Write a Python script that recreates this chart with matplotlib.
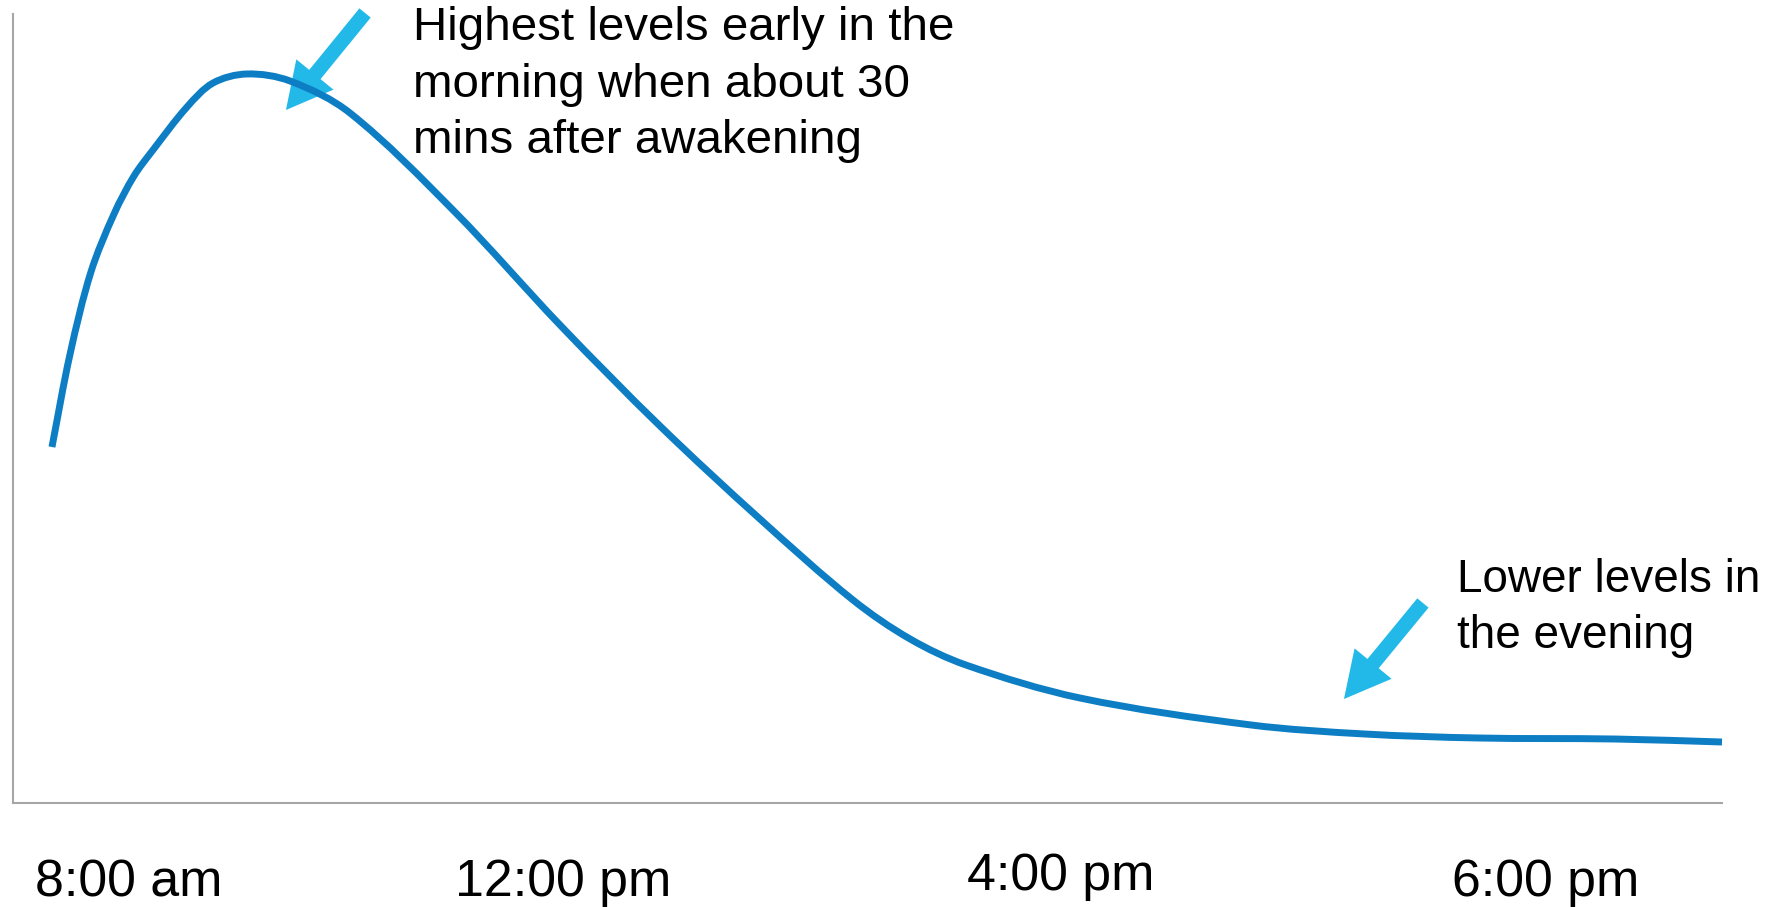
import matplotlib
matplotlib.use("Agg")
import matplotlib.pyplot as plt
import numpy as np
from matplotlib.path import Path
from matplotlib.patches import PathPatch
from matplotlib.transforms import blended_transform_factory

plt.rcParams['font.family'] = ['Liberation Sans', 'DejaVu Sans']

# Relative cortisol level across the day (x: position along the day, 0-100; y: level, 0-100)
day_position = [2.28, 3.34, 4.56, 5.91, 7.08, 8.19, 10.18, 11.70, 13.69, 16.21,
                19.72, 25.86, 32.01, 37.86, 43.71, 49.15, 52.49, 55.76, 62.43,
                72.44, 79.05, 85.72, 93.74, 100.0]
level = [45.12, 56.91, 67.30, 74.65, 79.47, 82.76, 88.21, 91.25, 92.40, 91.51,
         87.45, 74.90, 60.58, 47.78, 35.99, 25.73, 20.79, 17.49, 13.31,
         9.89, 8.75, 8.24, 8.11, 7.73]

time_labels = ["8:00 am", "12:00 pm", "4:00 pm", "6:00 pm"]
time_positions = [6.79, 32.18, 61.32, 89.70]
label_baselines = [-0.1179, -0.1179, -0.1103, -0.1179]

morning_note = ["Highest levels early in the", "morning when about 30", "mins after awakening"]
evening_note = ["Lower levels in", "the evening"]

LINE_COLOR = "#0E7EC4"
ARROW_COLOR = "#22B9E8"
AXIS_COLOR = "#A6A6A6"


def smooth_path(ax, xs, ys):
    """Smoothed line through the points: cubic Hermite segments with
    chord-length parameterisation, written as Bezier curves in data space."""
    p = np.column_stack([xs, ys]).astype(float)
    px = ax.transData.transform(p)
    d = np.hypot(*np.diff(px, axis=0).T)
    t = np.concatenate([[0.0], np.cumsum(d)])
    n = len(p)
    m = np.zeros_like(p)
    m[0] = (p[1] - p[0]) / (t[1] - t[0])
    m[-1] = (p[-1] - p[-2]) / (t[-1] - t[-2])
    for i in range(1, n - 1):
        m[i] = (p[i + 1] - p[i - 1]) / (t[i + 1] - t[i - 1])
    verts = [p[0]]
    codes = [Path.MOVETO]
    for i in range(n - 1):
        h = t[i + 1] - t[i]
        verts += [p[i] + m[i] * h / 3.0, p[i + 1] - m[i + 1] * h / 3.0, p[i + 1]]
        codes += [Path.CURVE4] * 3
    return Path(verts, codes)


W, H = 1783, 907
fig = plt.figure(figsize=(W / 100, H / 100), dpi=100)
fig.patch.set_facecolor("white")

ax = fig.add_axes([13 / W, (H - 803) / H, 1709 / W, 789 / H])
ax.set_xlim(0, 100)
ax.set_ylim(0, 100)
ax.set_facecolor("none")
for side in ("top", "right"):
    ax.spines[side].set_visible(False)
for side in ("left", "bottom"):
    ax.spines[side].set_color(AXIS_COLOR)
    ax.spines[side].set_linewidth(1.5)
ax.set_xticks([])
ax.set_yticks([])

curve = PathPatch(smooth_path(ax, day_position, level), facecolor="none",
                  edgecolor=LINE_COLOR, lw=5.0, capstyle="butt", joinstyle="round",
                  transform=ax.transData, clip_on=False, zorder=3)
ax.add_patch(curve)

# Time-of-day labels under the axis
trans = blended_transform_factory(ax.transData, ax.transAxes)
for lab, xp, yb in zip(time_labels, time_positions, label_baselines):
    ax.text(xp, yb, lab, transform=trans, ha="center", va="baseline",
            fontsize=37.4, color="black", clip_on=False)

# Block arrows pointing at the curve
arrow_kw = dict(arrowstyle="simple,head_length=3.3,head_width=3.45,tail_width=1.05",
                mutation_scale=10, color=ARROW_COLOR, shrinkA=0, shrinkB=0, lw=0)
ax.annotate("", xy=(15.97, 87.83), xytext=(20.60, 100.13),
            arrowprops=arrow_kw, annotation_clip=False, zorder=2)
ax.annotate("", xy=(77.88, 13.18), xytext=(82.50, 25.35),
            arrowprops=arrow_kw, annotation_clip=False, zorder=2)

# Annotation texts
for i, line in enumerate(morning_note):
    base = [40, 97, 153][i]
    fig.text(413 / W, 1 - base / H, line, ha="left", va="baseline",
             fontsize=34.2, color="black")
for i, line in enumerate(evening_note):
    base = [592, 648][i]
    fig.text(1457 / W, 1 - base / H, line, ha="left", va="baseline",
             fontsize=33.0, color="black")

fig.savefig("out.png", dpi=100, facecolor="white")
